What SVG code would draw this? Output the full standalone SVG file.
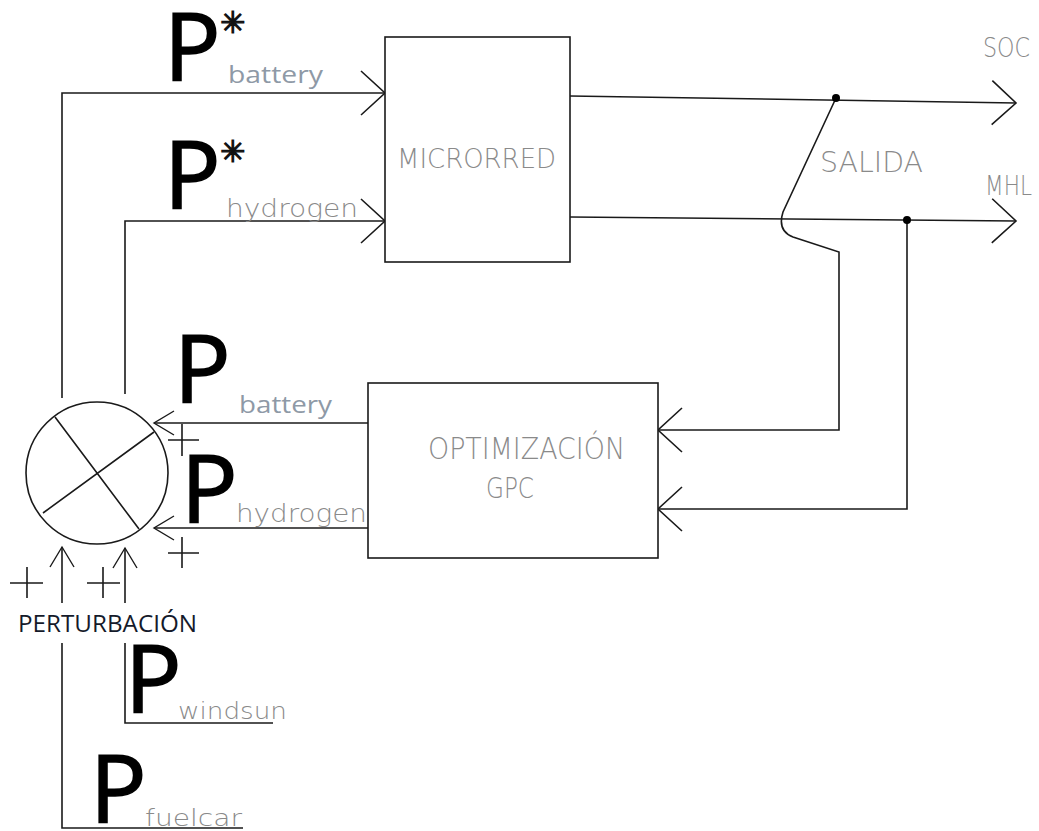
<svg xmlns="http://www.w3.org/2000/svg" width="1039" height="831" viewBox="0 0 1039 831">
<style>
.ln{fill:none;stroke:#1a1a1a;stroke-width:1.6}
.box{fill:#fff;stroke:#1a1a1a;stroke-width:1.6}
.big{font-family:"Open Sans","Liberation Sans",sans-serif;font-size:94px;fill:#000;stroke:#000;stroke-width:1.6}
.cal{font-family:"Open Sans","Liberation Sans",sans-serif;font-size:24px;fill:#8e99a6}
.din{font-family:"DejaVu Sans","Liberation Sans",sans-serif;font-weight:200;fill:#8a8a8a}
.star{font-family:"DejaVu Sans",sans-serif;font-size:30px;fill:#111;stroke:#111;stroke-width:1.2}
.pert{font-family:"Open Sans","Liberation Sans",sans-serif;font-size:23px;fill:#141a2a}
</style>
<defs>
<marker id="arr" markerUnits="userSpaceOnUse" orient="auto" overflow="visible" markerWidth="30" markerHeight="50" refX="0" refY="0">
<path d="M-24,-22 L0,0 L-24,22" fill="none" stroke="#1a1a1a" stroke-width="1.6"/>
</marker>
<marker id="arrs" markerUnits="userSpaceOnUse" orient="auto" overflow="visible" markerWidth="30" markerHeight="30" refX="0" refY="0">
<path d="M-20,-12 L0,0 L-20,12" fill="none" stroke="#1a1a1a" stroke-width="1.4"/>
</marker>
</defs>
<rect width="1039" height="831" fill="#fff"/>

<g id="connectors">
<path class="ln" d="M62,398 V93 H385" marker-end="url(#arr)"/>
<path class="ln" d="M125,394 V221 H385" marker-end="url(#arr)"/>
<path class="ln" d="M570,96 L1016,103" marker-end="url(#arr)"/>
<path class="ln" d="M570,217 L1016,221" marker-end="url(#arr)"/>
<path class="ln" d="M836,98 L783,212 Q777,231 793,237 L839,252 V430 H658" marker-end="url(#arr)"/>
<path class="ln" d="M907,221 V509 H658" marker-end="url(#arr)"/>
<path class="ln" d="M368,423 H154" marker-end="url(#arrs)"/>
<path class="ln" d="M368,528 H154" marker-end="url(#arrs)"/>
<path class="ln" d="M62,603 V547" marker-end="url(#arrs)"/>
<path class="ln" d="M125,603 V548" marker-end="url(#arrs)"/>
<path class="ln" d="M62,643 V828 H243"/>
<path class="ln" d="M125,643 V723 H273"/>
<circle cx="836" cy="98" r="4" fill="#000"/>
<circle cx="907" cy="220" r="4" fill="#000"/>
</g>

<g id="microrred">
<rect class="box" x="385" y="37" width="185" height="225"/>
<text class="din" x="397" y="168" font-size="27" textLength="159" lengthAdjust="spacingAndGlyphs">MICRORRED</text>
</g>

<g id="optimizacion">
<rect class="box" x="368" y="383" width="290" height="175"/>
<text class="din" x="428" y="459" font-size="30" textLength="197" lengthAdjust="spacingAndGlyphs">OPTIMIZACIÓN</text>
<text class="din" x="486" y="498" font-size="29" textLength="48" lengthAdjust="spacingAndGlyphs">GPC</text>
</g>

<g id="sumador">
<circle cx="97" cy="473" r="71" fill="#fff" stroke="#1a1a1a" stroke-width="1.6"/>
<path class="ln" d="M55,417 L139,529 M43,513 L154,432"/>
<path class="ln" d="M168,440 H199 M182,424 V456"/>
<path class="ln" d="M168,553 H199 M182,537 V568"/>
<path class="ln" d="M10,583 H43 M27,567 V598"/>
<path class="ln" d="M87,583 H120 M103,567 V598"/>
</g>

<g id="salidas">
<text class="din" x="983" y="57" font-size="27" textLength="47" lengthAdjust="spacingAndGlyphs">SOC</text>
<text class="din" x="985" y="195" font-size="26" textLength="47" lengthAdjust="spacingAndGlyphs">MHL</text>
<text class="din" x="820" y="172" font-size="29" textLength="103" lengthAdjust="spacingAndGlyphs">SALIDA</text>
</g>

<g id="pbat-ref">
<text class="big" x="164" y="80">P</text>
<text class="star" x="220" y="33">✳</text>
<text class="cal" x="228" y="83" textLength="95" lengthAdjust="spacingAndGlyphs">battery</text>
</g>

<g id="phyd-ref">
<text class="big" x="164" y="208">P</text>
<text class="star" x="220" y="162">✳</text>
<text class="din" x="226" y="217" font-size="24" textLength="132" lengthAdjust="spacingAndGlyphs">hydrogen</text>
</g>

<g id="pbat">
<text class="big" x="174" y="402">P</text>
<text class="cal" x="239" y="413" textLength="93" lengthAdjust="spacingAndGlyphs">battery</text>
</g>

<g id="phyd">
<text class="big" x="181" y="522">P</text>
<text class="din" x="236" y="522" font-size="24" textLength="131" lengthAdjust="spacingAndGlyphs">hydrogen</text>
</g>

<g id="perturbacion">
<text class="pert" x="18" y="632" textLength="179" lengthAdjust="spacingAndGlyphs">PERTURBACIÓN</text>
</g>

<g id="pwindsun">
<text class="big" x="125" y="712" font-size="91">P</text>
<text class="din" x="178" y="719" font-size="23" textLength="109" lengthAdjust="spacingAndGlyphs">windsun</text>
</g>

<g id="pfuelcar">
<text class="big" x="90" y="822" font-size="91">P</text>
<text class="din" x="145" y="826" font-size="23" textLength="97" lengthAdjust="spacingAndGlyphs">fuelcar</text>
</g>
</svg>
